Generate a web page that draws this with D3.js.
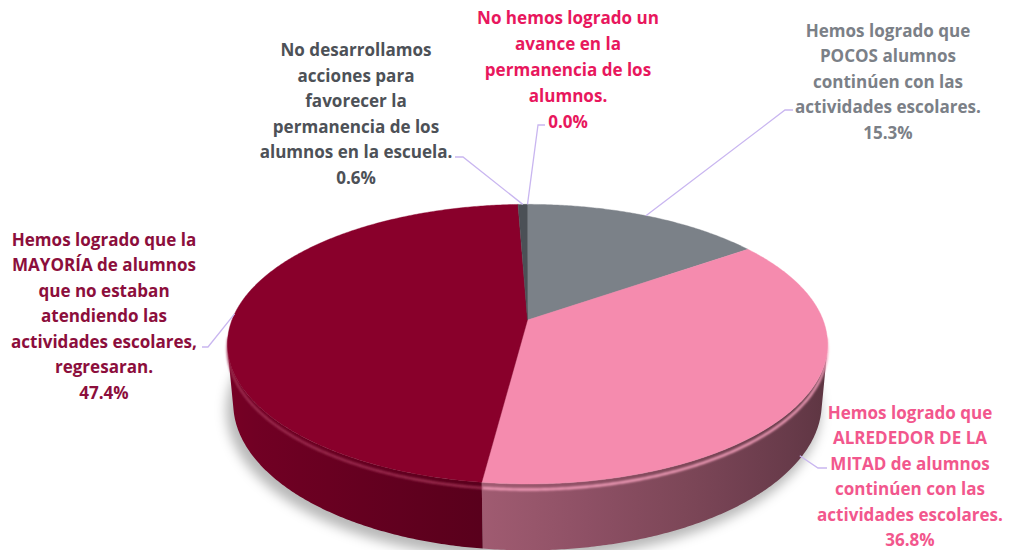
<!DOCTYPE html>
<html><head><meta charset="utf-8">
<script src="https://cdn.jsdelivr.net/npm/d3@7"></script>
<style>body{margin:0;background:#fff}svg{display:block}</style>
</head><body>
<svg id="c" width="1019" height="550"></svg>
<script>
// ---- data ----
const categories = [
  "Hemos logrado que POCOS alumnos continúen con las actividades escolares.",
  "Hemos logrado que ALREDEDOR DE LA MITAD de alumnos continúen con las actividades escolares.",
  "Hemos logrado que la MAYORÍA de alumnos que no estaban atendiendo las actividades escolares, regresaran.",
  "No desarrollamos acciones para favorecer la permanencia de los alumnos en la escuela.",
  "No hemos logrado un avance en la permanencia de los alumnos."
];
const values = [15.3, 36.8, 47.4, 0.6, 0.0];
const topColors = ["#7b8188", "#f58bae", "#89002b", "#4b5056", "#e8175d"];
const labelColors = ["#7b8087", "#f2578d", "#8c0e3c", "#4d5157", "#e8175d"];
const labelLines = [
  ["Hemos logrado que", "POCOS alumnos", "continúen con las", "actividades escolares.", "15.3%"],
  ["Hemos logrado que", "ALREDEDOR DE LA", "MITAD de alumnos", "continúen con las", "actividades escolares.", "36.8%"],
  ["Hemos logrado que la", "MAYORÍA de alumnos", "que no estaban", "atendiendo las", "actividades escolares,", "regresaran.", "47.4%"],
  ["No desarrollamos", "acciones para", "favorecer la", "permanencia de los", "alumnos en la escuela.", "0.6%"],
  ["No hemos logrado un", "avance en la", "permanencia de los", "alumnos.", "0.0%"]
];
const pctLabels = values.map(v => d3.format(".1f")(v) + "%");

// ---- layout ----
const svg = d3.select("#c");
const cx = 527.5, cy = 320, D = 5.17, Fx = 1528, Fy = 1560;
const sa = 0.4495, ca = Math.sqrt(1 - sa*sa), H = 0.22;
function proj(t, r, Y) {
  const X = r*Math.sin(t), Z = -r*Math.cos(t);
  const up = Y*ca - Z*sa, depth = D - (Y*sa + Z*ca);
  return [cx + Fx*X/depth, cy - Fy*up/depth];
}
const pie = d3.pie().sort(null).value(d => d).startAngle(0).endAngle(2*Math.PI);
const arcs = pie(values);

const defs = svg.append("defs");
defs.append("filter").attr("id","sh").attr("x","-20%").attr("y","-20%").attr("width","140%").attr("height","140%")
  .append("feGaussianBlur").attr("stdDeviation", 6);
defs.append("filter").attr("id","bl").append("feGaussianBlur").attr("stdDeviation", 1);

const line = d3.line();
function arcPts(a0, a1, r, Y) {
  const n = Math.max(2, Math.ceil((a1 - a0) / (Math.PI/360)));
  return d3.range(n + 1).map(i => proj(a0 + (a1 - a0)*i/n, r, Y));
}

// front-facing range of the outer wall (sampled)
function facing(t) {
  const e = 0.002;
  const p = [proj(t-e,1,0), proj(t+e,1,0), proj(t+e,1,-H), proj(t-e,1,-H)];
  return d3.polygonArea(p) > 0;
}
let fStart = null, fEnd = null;
for (let k = 0; k <= 3600; k++) {
  const t = 2*Math.PI*k/3600;
  if (facing(t)) { if (fStart === null) fStart = t; fEnd = t; }
}

// shadow
svg.append("path")
  .attr("d", line(arcPts(0, 2*Math.PI, 1.01, -H - 0.01)) + "Z")
  .attr("fill", "rgba(0,0,0,0.28)")
  .attr("transform", "translate(-4,4)")
  .attr("filter", "url(#sh)");

// side walls (front-facing portion), shaded by angle with a horizontal gradient
const shade = t => 0.62 - 0.25*Math.sin(t);
const walls = [];
arcs.forEach((a, i) => {
  const a0 = Math.max(a.startAngle, fStart), a1 = Math.min(a.endAngle, fEnd);
  if (a1 <= a0) return;
  const c = d3.rgb(topColors[i]);
  const x0 = proj(a0,1,0)[0], x1 = proj(a1,1,0)[0];
  const gid = "g" + i;
  const g = defs.append("linearGradient").attr("id", gid)
    .attr("gradientUnits", "userSpaceOnUse")
    .attr("x1", x0).attr("x2", x1).attr("y1", 0).attr("y2", 0);
  d3.range(0, 11).forEach(k => {
    const t = a0 + (a1 - a0)*k/10;
    const x = proj(t,1,0)[0];
    const f = shade(t);
    g.append("stop").attr("offset", (x - x0)/(x1 - x0))
      .attr("stop-color", d3.rgb(c.r*f, c.g*f, c.b*f).toString());
  });
  const top = arcPts(a0, a1, 1, 0), bot = arcPts(a0, a1, 1, -H).reverse();
  walls.push({d: line(top.concat(bot)) + "Z", fill: `url(#${gid})`});
});
svg.append("g").selectAll("path").data(walls).join("path")
  .attr("d", d => d.d).attr("fill", d => d.fill);

// rim highlight on front walls
arcs.forEach((a, i) => {
  const a0 = Math.max(a.startAngle, Math.PI*0.53), a1 = Math.min(a.endAngle, Math.PI*1.47);
  if (a1 <= a0) return;
  const c = d3.rgb(topColors[i]);
  const hl = d3.interpolateRgb(c, "#ffffff")(0.18);
  svg.append("path")
    .attr("d", line(arcPts(a0, a1, 1, -0.018)))
    .attr("fill", "none").attr("stroke", hl).attr("stroke-width", 2.4)
    .attr("filter", "url(#bl)");
});

// top faces
svg.append("g").selectAll("path").data(arcs.filter(a => a.endAngle > a.startAngle)).join("path")
  .attr("d", a => line([proj(0,0,0)].concat(arcPts(a.startAngle, a.endAngle, 1, 0))) + "Z")
  .attr("fill", a => topColors[a.index])
  .attr("stroke", a => topColors[a.index])
  .attr("stroke-width", 0.4);

// ---- labels ----
const labelPos = [
  {x: 888, y: 31, step: 25.5},
  {x: 910, y: 413, step: 25.4},
  {x: 104, y: 240, step: 25.5},
  {x: 356, y: 50, step: 25.6},
  {x: 568, y: 18.5, step: 25.8}
];
const fontFam = "'Open Sans', 'DejaVu Sans', sans-serif";
// calibrate font size so the line "actividades escolares." is ~186px wide
const probe = svg.append("text").attr("font-family", fontFam).attr("font-weight", 700)
  .attr("font-size", 16).text("actividades escolares.");
const w16 = probe.node().getComputedTextLength();
probe.remove();
const fs = 16 * 186 / w16;

labelLines.forEach((lines, i) => {
  const t = svg.append("text")
    .attr("font-family", fontFam).attr("font-weight", 700).attr("font-size", fs)
    .attr("fill", labelColors[i]).attr("text-anchor", "middle");
  lines.forEach((s, k) => {
    t.append("tspan").attr("x", labelPos[i].x)
      .attr("y", labelPos[i].y + k*labelPos[i].step)
      .attr("dy", "0.35em").text(k === lines.length - 1 ? pctLabels[i] : s);
  });
});

// ---- leader lines ----
const mid = a => (a.startAngle + a.endAngle)/2;
const leaders = [
  [[793,110],[785,110], proj(mid(arcs[0]),1,0)],
  [[827,468],[818,468], proj(mid(arcs[1]),1,-0.94*H)],
  [[202,347],[208,347], proj(mid(arcs[2]),1,0)],
  [[455,157],[463,157], proj(mid(arcs[3]),1,0)],
  [[545,125],[538,125], proj(arcs[4].startAngle,1,0)]
];
svg.append("g").selectAll("path").data(leaders).join("path")
  .attr("d", d => line(d))
  .attr("fill", "none").attr("stroke", "#c9b6f0").attr("stroke-width", 1.3);
</script>
</body></html>
